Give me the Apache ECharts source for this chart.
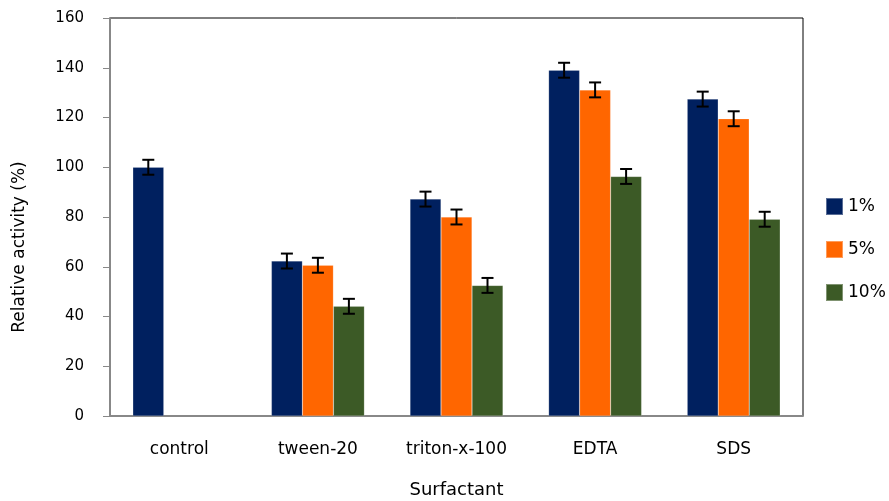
<!DOCTYPE html>
<html>
<head>
<meta charset="utf-8">
<script src="https://cdn.jsdelivr.net/npm/echarts@6/dist/echarts.min.js"></script>
<style>
  html, body { margin: 0; padding: 0; background: #fff; }
  #main { width: 889px; height: 501px; }
</style>
</head>
<body>
<div id="main"></div>
<script>
// 分类与数值
var categories = ['control', 'tween-20', 'triton-x-100', 'EDTA', 'SDS'];
var seriesNames = ['1%', '5%', '10%'];
var data1 = [100, 62.3, 87.2, 139.0, 127.4];
var data5 = [null, 60.6, 80.0, 131.1, 119.5];
var data10 = [null, 44.1, 52.5, 96.3, 79.1];
var err1 = [3, 3, 3, 3, 3];
var err5 = [null, 3, 3, 3, 3];
var err10 = [null, 3, 3, 3, 3];
var yTicks = [0, 20, 40, 60, 80, 100, 120, 140, 160];

var colors = ['#00205f', '#ff6600', '#3c5a26'];
var barW = 31;
var font = 'DejaVu Sans';

// 误差线
function errorSeries(values, errs, idx) {
    var items = [];
    for (var i = 0; i < values.length; i++) {
        if (values[i] == null) continue;
        items.push([i, values[i] - errs[i], values[i] + errs[i]]);
    }
    return {
        type: 'custom',
        name: 'err' + idx,
        z: 10,
        data: items,
        renderItem: function (params, api) {
            var x = api.value(0);
            var lo = api.coord([x, api.value(1)]);
            var hi = api.coord([x, api.value(2)]);
            var cx = lo[0] + (idx - 1) * barW;
            var hw = 6;
            var style = { stroke: '#000', lineWidth: 2 };
            return {
                type: 'group',
                children: [
                    { type: 'line', shape: { x1: cx, y1: lo[1], x2: cx, y2: hi[1] }, style: style },
                    { type: 'line', shape: { x1: cx - hw, y1: lo[1], x2: cx + hw, y2: lo[1] }, style: style },
                    { type: 'line', shape: { x1: cx - hw, y1: hi[1], x2: cx + hw, y2: hi[1] }, style: style }
                ]
            };
        }
    };
}

function barSeries(name, values, color) {
    return {
        name: name,
        type: 'bar',
        barWidth: barW,
        barGap: '0%',
        data: values,
        itemStyle: { color: color, borderColor: 'rgba(255,255,255,0.35)', borderWidth: 0.5 }
    };
}

var myChart = echarts.init(document.getElementById('main'));
var option = {
    animation: false,
    backgroundColor: '#fff',
    textStyle: { fontFamily: font },
    grid: {
        left: 110, right: 86, top: 18, bottom: 85,
        containLabel: false,
        outerBoundsMode: 'none',
        show: true, borderColor: '#000', borderWidth: 1
    },
    legend: {
        data: seriesNames,
        orient: 'vertical',
        left: 825, top: 197,
        padding: 0,
        itemWidth: 17, itemHeight: 17, itemGap: 24,
        icon: 'rect',
        textStyle: { fontSize: 17, color: '#000', fontFamily: font }
    },
    xAxis: {
        type: 'category',
        data: categories,
        name: 'Surfactant',
        nameLocation: 'middle',
        nameGap: 65,
        nameTextStyle: { fontSize: 18, color: '#000' },
        axisLine: { lineStyle: { color: '#888', width: 2 } },
        axisTick: { length: 7, lineStyle: { color: '#888', width: 2 } },
        axisLabel: { fontSize: 17, color: '#000', margin: 25 }
    },
    yAxis: {
        type: 'value',
        min: yTicks[0], max: yTicks[yTicks.length - 1], interval: 20,
        name: 'Relative activity (%)',
        nameLocation: 'middle',
        nameGap: 82,
        nameTextStyle: { fontSize: 17, color: '#000', padding: [0, 60, 0, 0] },
        axisLine: { show: true, lineStyle: { color: '#888', width: 2 } },
        axisTick: { show: true, length: 7, lineStyle: { color: '#888', width: 1 } },
        axisLabel: { fontSize: 15, color: '#000', margin: 26 },
        splitLine: { show: false }
    },
    series: [
        barSeries(seriesNames[0], data1, colors[0]),
        barSeries(seriesNames[1], data5, colors[1]),
        barSeries(seriesNames[2], data10, colors[2]),
        errorSeries(data1, err1, 0),
        errorSeries(data5, err5, 1),
        errorSeries(data10, err10, 2)
    ]
};
// 使用刚指定的配置项和数据显示图表。
myChart.setOption(option);
</script>
</body>
</html>
